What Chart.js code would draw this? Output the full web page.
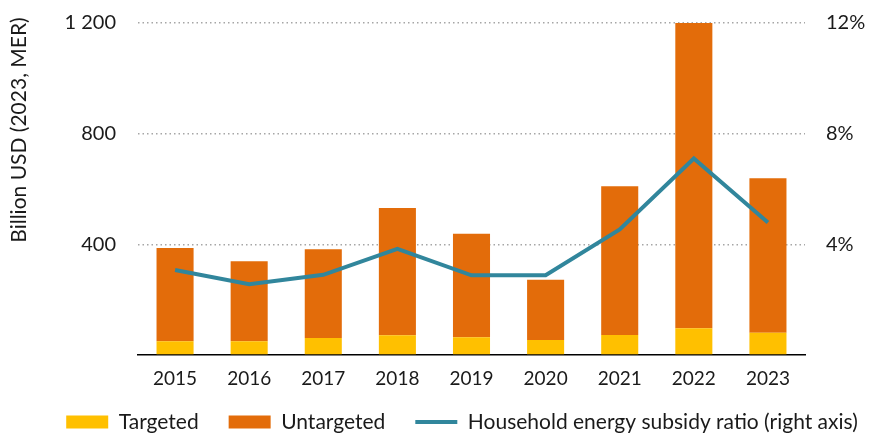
<!DOCTYPE html>
<html>
<head>
<meta charset="utf-8">
<script src="https://cdn.jsdelivr.net/npm/chart.js@4/dist/chart.umd.min.js"></script>
<style>
  html, body { margin: 0; padding: 0; background: #fff; }
  #wrap { width: 870px; height: 436px; }
</style>
</head>
<body>
<div id="wrap"><canvas id="chart"></canvas></div>
<script>
const years = ['2015', '2016', '2017', '2018', '2019', '2020', '2021', '2022', '2023'];
const targeted = [50, 50, 61, 71, 64, 54, 72, 97, 80];
const untargeted = [337, 289, 321, 460, 374, 218, 538, 1103, 559];
const subsidyRatio = [3.07, 2.56, 2.9, 3.84, 2.88, 2.88, 4.54, 7.1, 4.79];

const leftTicks = [0, 400, 800, 1200];
const rightTicks = [0, 4, 8, 12];

const FONT = 'Lato';
const INK = '#1a1a1a';

Chart.defaults.font.family = FONT;
Chart.defaults.color = INK;

// rotated left-axis title, sits higher than the axis middle
const leftTitle = {
  id: 'leftTitle',
  afterDraw(chart) {
    const ctx = chart.ctx;
    ctx.save();
    ctx.translate(19, 130);
    ctx.rotate(-Math.PI / 2);
    ctx.font = '21px ' + FONT;
    ctx.fillStyle = INK;
    ctx.textAlign = 'center';
    ctx.textBaseline = 'middle';
    ctx.fillText('Billion USD (2023, MER)', 0, 0);
    ctx.restore();
  }
};

// pull the legend row up a little, closer to the year labels
const legendLift = {
  id: 'legendLift',
  afterLayout(chart) {
    const lg = chart.legend;
    if (!lg) return;
    lg.top -= 9.5;
    lg.bottom -= 9.5;
  }
};

function spaced(v) {
  return String(v).replace(/\B(?=(\d{3})+(?!\d))/g, ' ');
}

// keep tick padding from pushing the plot area in
function noLabelOverflow(scale) {
  scale.paddingTop = 0;
  scale.paddingBottom = 0;
}

new Chart(document.getElementById('chart'), {
  type: 'bar',
  data: {
    labels: years,
    datasets: [
      {
        label: 'Targeted',
        data: targeted,
        backgroundColor: '#FFC000',
        borderWidth: 0,
        pointStyle: 'rect',
        yAxisID: 'y',
        order: 1
      },
      {
        label: 'Untargeted',
        data: untargeted,
        backgroundColor: '#E36C0A',
        borderWidth: 0,
        pointStyle: 'rect',
        yAxisID: 'y',
        order: 1
      },
      {
        type: 'line',
        label: 'Household energy subsidy ratio (right axis)',
        data: subsidyRatio,
        borderColor: '#31869C',
        backgroundColor: '#31869C',
        borderWidth: 4,
        pointRadius: 0,
        pointStyle: 'line',
        tension: 0,
        yAxisID: 'y1',
        order: 0
      }
    ]
  },
  plugins: [leftTitle, legendLift],
  options: {
    responsive: true,
    maintainAspectRatio: false,
    animation: false,
    // legend is wide and sits low: right/bottom padding pulled outward
    layout: { padding: { left: 24, right: -30, top: 23, bottom: -16 } },
    datasets: {
      bar: { categoryPercentage: 1, barPercentage: 0.5 }
    },
    scales: {
      x: {
        stacked: true,
        grid: { display: false, drawTicks: false },
        border: { display: true, color: '#000', width: 1.5 },
        ticks: { padding: 12, font: { size: 19 }, color: INK },
        afterFit(scale) { scale.height = 36; }
      },
      y: {
        stacked: true,
        position: 'left',
        min: 0,
        max: 1200,
        afterBuildTicks(scale) { scale.ticks = leftTicks.map(v => ({ value: v })); },
        ticks: {
          padding: 22,
          font: { size: 20 },
          color: INK,
          callback: v => (v === 0 ? '' : spaced(v))
        },
        grid: {
          drawTicks: false,
          lineWidth: 1.5,
          color: c => (c.tick && c.tick.value === 0 ? 'rgba(0,0,0,0)' : '#A6A6A6')
        },
        border: { display: false, dash: [1.5, 3] },
        afterFit(scale) { scale.width = 114; noLabelOverflow(scale); }
      },
      y1: {
        position: 'right',
        min: 0,
        max: 12,
        afterBuildTicks(scale) { scale.ticks = rightTicks.map(v => ({ value: v })); },
        ticks: {
          padding: 21,
          font: { size: 20 },
          color: INK,
          callback: v => (v === 0 ? '' : v + '%')
        },
        grid: { display: false, drawTicks: false },
        border: { display: false },
        afterFit(scale) { scale.width = 95; noLabelOverflow(scale); }
      }
    },
    plugins: {
      tooltip: { enabled: false },
      legend: {
        position: 'bottom',
        labels: {
          usePointStyle: true,
          pointStyleWidth: 42,
          boxHeight: 13,
          padding: 30,
          color: INK,
          font: { size: 21 },
          sort: (a, b) => a.datasetIndex - b.datasetIndex
        }
      }
    }
  }
});
</script>
</body>
</html>
